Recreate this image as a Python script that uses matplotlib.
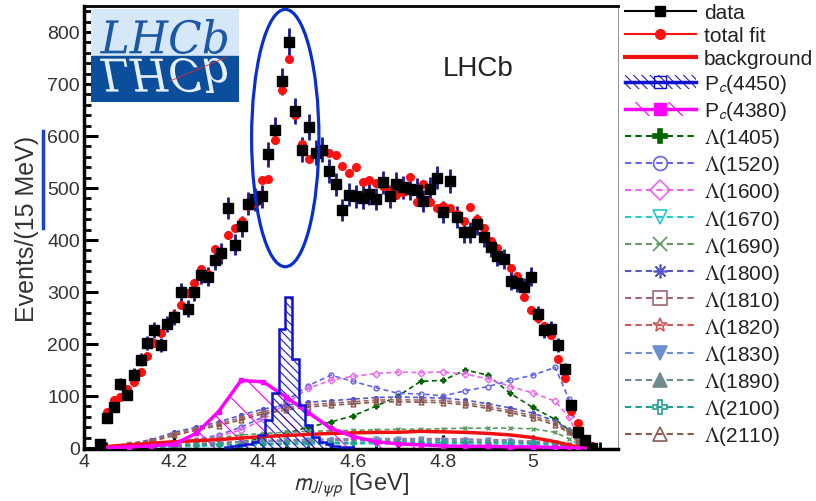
import numpy as np
import matplotlib
matplotlib.use('Agg')
import matplotlib.pyplot as plt
from matplotlib.lines import Line2D
from matplotlib.patches import Patch, Ellipse, Rectangle, PathPatch
from matplotlib.textpath import TextPath
from matplotlib.font_manager import FontProperties
from matplotlib.transforms import Affine2D
from matplotlib.legend_handler import HandlerTuple

plt.rcParams['font.family'] = ['Liberation Sans', 'DejaVu Sans']
plt.rcParams['mathtext.fontset'] = 'stix'
plt.rcParams['hatch.linewidth'] = 0.8

# ---------------- data ----------------
FIRST_BIN = 4.036
BIN_WIDTH = 0.015
data_counts = [8, 58, 79, 123, 102, 141, 170, 202, 227, 198, 239, 252, 300, 268, 300, 333, 329, 362, 374, 462,
               391, 426, 470, 478, 484, 565, 611, 705, 780, 648, 574, 617, 568, 574, 532, 507, 457, 487, 484, 481,
               489, 479, 511, 484, 508, 501, 499, 497, 475, 499, 520, 454, 513, 445, 415, 415, 430, 406, 387, 370,
               364, 322, 318, 310, 329, 257, 227, 229, 198, 152, 82, 31, 15, 0]
fit_counts = [6, 69, 92, 98, 113, 127, 146, 177, 202, 222, 241, 255, 275, 298, 318, 345, 335, 383, 372, 410,
              424, 436, 466, 472, 516, 518, 593, 688, 748, 640, 585, 555, 568, 572, 568, 563, 543, 528, 540, 511,
              516, 509, 503, 497, 486, 492, 522, 474, 507, 474, 462, 465, 462, 450, 437, 464, 440, 424, 398, 385,
              365, 347, 330, 291, 266, 250, 235, 218, 171, 135, 71, 48, 12, 3]

# component grid (GeV)
comp_m = [4.04, 4.10, 4.15, 4.20, 4.25, 4.30, 4.35, 4.40, 4.45, 4.50, 4.55, 4.60, 4.65, 4.70, 4.75, 4.80,
          4.85, 4.90, 4.95, 5.00, 5.05, 5.08, 5.10, 5.12]
background = [2, 6, 9, 12, 14, 16, 19, 22, 24, 26, 28, 29, 30, 30, 32, 31, 30, 28, 25, 20, 12, 6, 2, 0]
pc4380 = [0, 2, 4, 7, 28, 70, 130, 127, 98, 68, 38, 22, 12, 8, 6, 4, 3, 3, 2, 2, 1, 0, 0, 0]
l1405 = [0, 1, 2, 3, 5, 8, 12, 18, 28, 40, 50, 62, 80, 100, 128, 130, 150, 140, 105, 78, 55, 35, 18, 3]
l1520 = [1, 3, 6, 10, 16, 25, 40, 60, 90, 120, 140, 128, 116, 105, 104, 100, 110, 118, 130, 140, 155, 95, 35, 3]
l1600 = [0, 2, 4, 8, 14, 22, 35, 55, 85, 115, 130, 138, 143, 146, 145, 146, 142, 133, 118, 106, 90, 60, 25, 3]
l1670 = [0, 1, 1, 2, 3, 4, 5, 6, 7, 7, 8, 8, 8, 8, 8, 8, 8, 7, 7, 6, 5, 3, 1, 0]
l1690 = [0, 3, 6, 10, 15, 20, 25, 28, 30, 32, 33, 34, 35, 36, 36, 37, 38, 38, 38, 37, 30, 18, 8, 1]
l1800 = [1, 8, 16, 30, 40, 50, 63, 75, 82, 88, 91, 94, 97, 98, 97, 96, 92, 85, 77, 67, 52, 35, 15, 2]
l1810 = [1, 7, 14, 27, 37, 46, 58, 70, 77, 83, 86, 89, 92, 93, 92, 91, 87, 80, 72, 62, 48, 32, 13, 2]
l1820 = [0, 2, 4, 6, 8, 10, 12, 14, 15, 16, 17, 18, 18, 18, 18, 18, 17, 16, 15, 13, 10, 6, 3, 0]
l1830 = [0, 2, 4, 6, 8, 10, 12, 14, 15, 16, 16, 17, 17, 17, 17, 16, 16, 15, 14, 12, 9, 5, 2, 0]
l1890 = [0, 2, 4, 6, 8, 10, 11, 12, 13, 13, 14, 14, 14, 14, 14, 14, 13, 13, 12, 10, 8, 5, 2, 0]
l2100 = [0, 1, 2, 4, 5, 6, 7, 8, 9, 10, 10, 10, 11, 11, 11, 11, 11, 10, 10, 9, 7, 4, 2, 0]
l2110 = [1, 6, 12, 24, 34, 43, 54, 66, 73, 79, 82, 85, 88, 89, 88, 87, 83, 76, 68, 58, 44, 30, 12, 1]

# Pc(4450) histogram (bin centres, GeV) and contents
pc4450_m = [4.321, 4.336, 4.351, 4.366, 4.381, 4.396, 4.411, 4.426, 4.441, 4.456, 4.471, 4.486, 4.501,
            4.516, 4.531, 4.546, 4.561, 4.576, 4.591]
pc4450 = [2, 3, 5, 7, 12, 25, 54, 106, 228, 290, 172, 83, 44, 22, 12, 7, 4, 2, 1]

lam_styles = [
    ('$\\Lambda$(1405)', l1405, '#006400', 'P', 'full'),
    ('$\\Lambda$(1520)', l1520, '#6464e6', 'o', 'none'),
    ('$\\Lambda$(1600)', l1600, '#ee66ee', 'D', 'none'),
    ('$\\Lambda$(1670)', l1670, '#22cccc', 'v', 'none'),
    ('$\\Lambda$(1690)', l1690, '#5f9a5f', 'x', 'full'),
    ('$\\Lambda$(1800)', l1800, '#5555cc', (8, 2, 0), 'full'),
    ('$\\Lambda$(1810)', l1810, '#a0686e', 's', 'none'),
    ('$\\Lambda$(1820)', l1820, '#d05858', '*', 'none'),
    ('$\\Lambda$(1830)', l1830, '#6a8fd0', 'v', 'full'),
    ('$\\Lambda$(1890)', l1890, '#6f8a90', '^', 'full'),
    ('$\\Lambda$(2100)', l2100, '#20a090', 'P', 'none'),
    ('$\\Lambda$(2110)', l2110, '#8b5a4a', '^', 'none'),
]

W, H = 816, 502
fig = plt.figure(figsize=(W / 100, H / 100), dpi=100)
ax = fig.add_axes([84 / W, 1 - 450 / H, (618 - 84) / W, (450 - 7) / H])

m_bins = FIRST_BIN + BIN_WIDTH * np.arange(len(data_counts))
data_arr = np.array(data_counts, dtype=float)

# components
DASH = (0, (3, 2))
for label, vals, col, mk, fill in lam_styles:
    ax.plot(comp_m, vals, color=col, ls=DASH, lw=1.2, marker=mk, ms=3.5,
            mfc=(col if fill == 'full' else 'none'), mec=col, mew=1.0, zorder=2)

ax.plot(comp_m, background, color='#ee1111', lw=2.5, zorder=2.5)

ax.fill_between(comp_m, pc4380, 0, facecolor='none', edgecolor='#ff00ff', hatch='\\', lw=0, zorder=2)
ax.plot(comp_m, pc4380, color='#ff00ff', lw=2.5, marker='s', ms=3.5, zorder=2.6)

pc_edges = np.append(np.array(pc4450_m) - BIN_WIDTH / 2, pc4450_m[-1] + BIN_WIDTH / 2)
ax.stairs(pc4450, pc_edges, fill=True, facecolor='none', edgecolor='#2020c0', hatch='\\\\\\\\', lw=0, zorder=2)
ax.stairs(pc4450, pc_edges, color='#1010d0', lw=1.8, zorder=2.7)

# data and fit
ax.errorbar(m_bins, data_arr, yerr=np.sqrt(data_arr), fmt='none', ecolor='#1a1a88', elinewidth=2.0, zorder=3)
ax.plot(m_bins, fit_counts, ls='none', marker='o', ms=5.5, color='#ff1010', zorder=4)
ax.plot(m_bins, data_counts, ls='none', marker='s', ms=6.5, color='black', zorder=5)

# axes styling
ax.set_xlim(4.0, 5.19)
ax.set_ylim(-2, 850)
ax.set_xticks([4.0, 4.2, 4.4, 4.6, 4.8, 5.0])
ax.set_xticklabels(['4', '4.2', '4.4', '4.6', '4.8', '5'])
ax.set_xticks(np.arange(4.05, 5.19, 0.05), minor=True)
ax.set_yticks([0, 100, 200, 300, 400, 500, 600, 700, 800])
ax.set_yticks(np.arange(20, 850, 20), minor=True)
ax.tick_params(which='major', direction='in', length=10, width=2.2, labelsize=14, labelcolor='#333333', pad=3)
ax.tick_params(which='minor', direction='in', length=5, width=2.0)
for s in ['left', 'bottom']:
    ax.spines[s].set_linewidth(2.5)
ax.spines['top'].set_linewidth(2.0)
ax.spines['right'].set_linewidth(0.8)
ax.spines['right'].set_color('#999999')

ax.set_ylabel('Events/(15 MeV)', fontsize=18, color='#333333', labelpad=6)
ax.set_xlabel('$m_{J/\\psi p}$ [GeV]', fontsize=17, color='#333333', labelpad=0, math_fontfamily='stixsans')

ax.text(4.80, 731, 'LHCb', fontsize=20, color='#222222', ha='left', va='center')

# blue ellipse annotation around the peak
ax.add_patch(Ellipse((4.4485, 596), 0.150, 495, fill=False, ec='#0a2fd0', lw=2.3, clip_on=False, zorder=6))
fig.add_artist(Line2D([42.7 / W] * 2, [1 - 132 / H, 1 - 229 / H], transform=fig.transFigure,
                      color='#1a3fd6', lw=2.5))

# LHCb logo
lax = fig.add_axes([91 / W, 1 - 103 / H, 148 / W, 93 / H])
lax.set_xlim(0, 148)
lax.set_ylim(93, 0)
lax.axis('off')
lax.add_patch(Rectangle((0, 0), 148, 47, color='#d6e8f7'))
lax.add_patch(Rectangle((0, 47), 148, 46, color='#0b4e9c'))
fp = FontProperties(family='DejaVu Serif', style='italic')
tp = TextPath((0, 0), 'LHCb', size=10, prop=fp)
ext = tp.get_extents()
sx = 127 / ext.width
sy = 35 / ext.height
t_up = Affine2D().translate(-ext.x0, -ext.y0).scale(sx, -sy).translate(9, 45) + lax.transData
t_dn = Affine2D().translate(-ext.x0, -ext.y0).scale(sx, sy).translate(9, 49) + lax.transData
lax.add_patch(PathPatch(tp, transform=t_up, fc='#1d58a6', ec='none'))
lax.add_patch(PathPatch(tp, transform=t_dn, fc='#e6eef8', ec='none'))
lax.plot([79, 136], [72, 48], color='#e03030', lw=0.6)

# legend
handles = [
    Line2D([], [], color='black', marker='s', ms=7, lw=1.5),
    Line2D([], [], color='#ff1010', marker='o', ms=7, lw=1.5),
    Line2D([], [], color='#ee1111', lw=3),
    (Patch(facecolor='none', edgecolor='#2020c0', hatch='\\\\\\\\', lw=0),
     Line2D([], [], color='#1010d0', marker='s', mfc='none', ms=8, lw=2.5)),
    (Patch(facecolor='none', edgecolor='#ff00ff', hatch='\\', lw=0),
     Line2D([], [], color='#ff00ff', marker='s', ms=9, lw=2.5)),
]
labels = ['data', 'total fit', 'background', 'P$_{\\mathsf{c}}$(4450)', 'P$_{\\mathsf{c}}$(4380)']
for label, vals, col, mk, fill in lam_styles:
    handles.append(Line2D([], [], color=col, ls=DASH, lw=1.5, marker=mk, ms=10,
                          mfc=(col if fill == 'full' else 'none'), mec=col, mew=1.2))
    labels.append(label)

fig.legend(handles, labels, loc='upper left', bbox_to_anchor=(625 / W, 1 - 4 / H), frameon=False,
           fontsize=15, handlelength=3.4, handletextpad=0.4, labelspacing=0.195, borderpad=0,
           borderaxespad=0, labelcolor='#222222', handler_map={tuple: HandlerTuple(ndivide=1)})

fig.savefig('out.png', dpi=100)
